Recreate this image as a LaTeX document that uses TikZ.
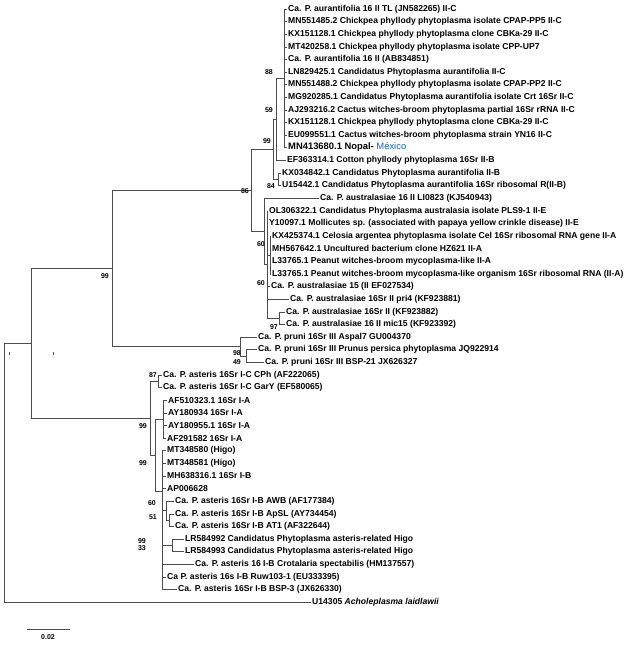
\documentclass[tikz,border=0pt]{standalone}
\usepackage{fontspec}
\setmainfont{Liberation Sans}
\definecolor{mexblue}{RGB}{20,100,200}
\begin{document}
\begin{tikzpicture}[x=1pt,y=-1pt,
  br/.style={draw=black!70, line width=0.6pt},
  leaf/.style={anchor=west, inner sep=0pt, font=\fontsize{8.6}{9}\selectfont\bfseries},
  bs/.style={anchor=east, inner sep=0pt, font=\fontsize{7}{7.5}\selectfont\bfseries}]
\useasboundingbox (0,0) rectangle (637,646);
% ---------- leaves ----------
\node[leaf] (l1) at (288,9.0) {Ca. P. aurantifolia 16 II TL (JN582265) II-C};
\node[leaf] (l2) at (288,21.6) {MN551485.2 Chickpea phyllody phytoplasma isolate CPAP-PP5 II-C};
\node[leaf] (l3) at (288,34.2) {KX151128.1 Chickpea phyllody phytoplasma clone CBKa-29 II-C};
\node[leaf] (l4) at (288,46.9) {MT420258.1 Chickpea phyllody phytoplasma isolate CPP-UP7};
\node[leaf] (l5) at (288,59.5) {Ca. P. aurantifolia 16 II (AB834851)};
\node[leaf] (l6) at (288,72.1) {LN829425.1 Candidatus Phytoplasma aurantifolia II-C};
\node[leaf] (l7) at (288,84.7) {MN551488.2 Chickpea phyllody phytoplasma isolate CPAP-PP2 II-C};
\node[leaf] (l8) at (288,97.3) {MG920285.1 Candidatus Phytoplasma aurantifolia isolate Crt 16Sr II-C};
\node[leaf] (l9) at (288,110.0) {AJ293216.2 Cactus witches-broom phytoplasma partial 16Sr rRNA II-C};
\node[leaf] (l10) at (288,122.6) {KX151128.1 Chickpea phyllody phytoplasma clone CBKa-29 II-C};
\node[leaf] (l11) at (288,135.2) {EU099551.1 Cactus witches-broom phytoplasma strain YN16 II-C};
\node[leaf] (l12) at (288,146.8) {\fontsize{9.4}{10}\selectfont MN413680.1 Nopal- \mdseries\color{mexblue}México};
\node[leaf] (l13) at (287,160.4) {EF363314.1 Cotton phyllody phytoplasma 16Sr II-B};
\node[leaf] (l14) at (282,173.1) {KX034842.1 Candidatus Phytoplasma aurantifolia II-B};
\node[leaf] (l15) at (282,185.7) {U15442.1 Candidatus Phytoplasma aurantifolia 16Sr ribosomal R(II-B)};
\node[leaf] (l16) at (320,198.3) {Ca. P. australasiae 16 II LI0823 (KJ540943)};
\node[leaf] (l17) at (269,210.9) {OL306322.1 Candidatus Phytoplasma australasia isolate PLS9-1 II-E};
\node[leaf] (l18) at (269,223.5) {Y10097.1 Mollicutes sp. (associated with papaya yellow crinkle disease) II-E};
\node[leaf] (l19) at (272,236.2) {KX425374.1 Celosia argentea phytoplasma isolate Cel 16Sr ribosomal RNA gene II-A};
\node[leaf] (l20) at (272,248.8) {MH567642.1 Uncultured bacterium clone HZ621 II-A};
\node[leaf] (l21) at (272,261.4) {L33765.1 Peanut witches-broom mycoplasma-like II-A};
\node[leaf] (l22) at (272,274.0) {L33765.1 Peanut witches-broom mycoplasma-like organism 16Sr ribosomal RNA (II-A)};
\node[leaf] (l23) at (271,286.6) {Ca. P. australasiae 15 (II EF027534)};
\node[leaf] (l24) at (290,299.3) {Ca. P. australasiae 16Sr II pri4 (KF923881)};
\node[leaf] (l25) at (286,311.9) {Ca. P. australasiae 16Sr II (KF923882)};
\node[leaf] (l26) at (286,324.5) {Ca. P. australasiae 16 II mic15 (KF923392)};
\node[leaf] (l27) at (258,337.1) {Ca. P. pruni 16Sr III Aspal7 GU004370};
\node[leaf] (l28) at (258,349.7) {Ca. P. pruni 16Sr III Prunus persica phytoplasma JQ922914};
\node[leaf] (l29) at (265,362.4) {Ca. P. pruni 16Sr III BSP-21 JX626327};
\node[leaf] (l30) at (163,375.0) {Ca. P. asteris 16Sr I-C CPh (AF222065)};
\node[leaf] (l31) at (163,387.6) {Ca. P. asteris 16Sr I-C GarY (EF580065)};
\node[leaf] (l32) at (168,400.2) {AF510323.1 16Sr I-A};
\node[leaf] (l33) at (168,412.8) {AY180934 16Sr I-A};
\node[leaf] (l34) at (168,425.5) {AY180955.1 16Sr I-A};
\node[leaf] (l35) at (167,438.1) {AF291582 16Sr I-A};
\node[leaf] (l36) at (167,450.7) {MT348580 (Higo)};
\node[leaf] (l37) at (167,463.3) {MT348581 (Higo)};
\node[leaf] (l38) at (167,475.9) {MH638316.1 16Sr I-B};
\node[leaf] (l39) at (167,488.6) {AP006628};
\node[leaf] (l40) at (175,501.2) {Ca. P. asteris 16Sr I-B AWB (AF177384)};
\node[leaf] (l41) at (175,513.8) {Ca. P. asteris 16Sr I-B ApSL (AY734454)};
\node[leaf] (l42) at (175,526.4) {Ca. P. asteris 16Sr I-B AT1 (AF322644)};
\node[leaf] (l43) at (185,539.0) {LR584992 Candidatus Phytoplasma asteris-related Higo};
\node[leaf] (l44) at (185,551.7) {LR584993 Candidatus Phytoplasma asteris-related Higo};
\node[leaf] (l45) at (195,564.3) {Ca. P. asteris 16 I-B Crotalaria spectabilis (HM137557)};
\node[leaf] (l46) at (167,576.9) {Ca P. asteris 16s I-B Ruw103-1 (EU333395)};
\node[leaf] (l47) at (178,589.5) {Ca. P. asteris 16Sr I-B BSP-3 (JX626330)};
\node[leaf] (l48) at (312,602.1) {U14305 \itshape Acholeplasma laidlawii};
% ---------- internal nodes ----------
\coordinate (n88) at (284,78.4);
\coordinate (n59) at (276,119.4);
\coordinate (n84) at (278,179.4);
\coordinate (n99a) at (273,149.4);
\coordinate (nIIA) at (270,255.1);
\coordinate (n97) at (279,318.2);
\coordinate (nX) at (267,264.5);
\coordinate (naus) at (264,231.4);
\coordinate (n86) at (251,190.4);
\coordinate (n49) at (246,356.0);
\coordinate (n98) at (240,346.6);
\coordinate (n99b) at (112,268.5);
\coordinate (nA) at (31,343.0);
\coordinate (root) at (4,343.0);
\coordinate (n87) at (158,381.3);
\coordinate (nIA) at (163,419.2);
\coordinate (nF1) at (169,520.1);
\coordinate (nF) at (166,510.6);
\coordinate (nLR) at (172,545.4);
\coordinate (nC) at (162,491.0);
\coordinate (nB) at (155,455.0);
\coordinate (nI) at (150,418.0);
% ---------- brackets ----------
\draw[br] (n88 |- l1) -- (n88 |- l12);
\draw[br] (n59 |- n88) -- (n59 |- l13);
\draw[br] (n84 |- l14) -- (n84 |- l15);
\draw[br] (n99a |- n59) -- (n99a |- n84);
\draw[br] (nIIA |- l19) -- (nIIA |- l22);
\draw[br] (n97 |- l25) -- (n97 |- l26);
\draw[br] (nX |- l17) -- (nX |- n97);
\draw[br] (naus |- l16) -- (naus |- nX);
\draw[br] (n86 |- n99a) -- (n86 |- naus);
\draw[br] (n49 |- l28) -- (n49 |- l29);
\draw[br] (n98 |- l27) -- (n98 |- n49);
\draw[br] (n99b |- n86) -- (n99b |- n98);
\draw[br] (nA |- n99b) -- (nA |- nI);
\draw[br] (root) -- (root |- l48);
\draw[br] (n87 |- l30) -- (n87 |- l31);
\draw[br] (nIA |- l32) -- (nIA |- l35);
\draw[br] (nF1 |- l41) -- (nF1 |- l42);
\draw[br] (nF |- l40) -- (nF |- nF1);
\draw[br] (nLR |- l43) -- (nLR |- l44);
\draw[br] (nC |- l36) -- (nC |- l47);
\draw[br] (nB |- nIA) -- (nB |- nC);
\draw[br] (nI |- n87) -- (nI |- nB);
% ---------- internal connectors ----------
\draw[br] (n59 |- n88) -- (n88);
\draw[br] (n99a |- n59) -- (n59);
\draw[br] (n99a |- n84) -- (n84);
\draw[br] (n86 |- n99a) -- (n99a);
\draw[br] (naus |- nX) -- (nX);
\draw[br] (nX |- nIIA) -- (nIIA);
\draw[br] (nX |- n97) -- (n97);
\draw[br] (n86 |- naus) -- (naus);
\draw[br] (n99b |- n86) -- (n86);
\draw[br] (n98 |- n49) -- (n49);
\draw[br] (n99b |- n98) -- (n98);
\draw[br] (nA |- n99b) -- (n99b);
\draw[br] (root) -- (nA);
\draw[br] (nA |- nI) -- (nI);
\draw[br] (nI |- n87) -- (n87);
\draw[br] (nI |- nB) -- (nB);
\draw[br] (nB |- nIA) -- (nIA);
\draw[br] (nB |- nC) -- (nC);
\draw[br] (nC |- nF) -- (nF);
\draw[br] (nF |- nF1) -- (nF1);
\draw[br] (nC |- nLR) -- (nLR);
% ---------- tips ----------
\foreach \l in {l1,l2,l3,l4,l5,l6,l7,l8,l9,l10,l11,l12} \draw[br] (n88 |- \l) -- ([xshift=-1.5pt]\l.west);
\draw[br] (n59 |- l13) -- ([xshift=-1.5pt]l13.west);
\foreach \l in {l14,l15} \draw[br] (n84 |- \l) -- ([xshift=-1.5pt]\l.west);
\draw[br] (naus |- l16) -- ([xshift=-1.5pt]l16.west);
\foreach \l in {l17,l18,l23,l24} \draw[br] (nX |- \l) -- ([xshift=-1.5pt]\l.west);
\foreach \l in {l19,l20,l21,l22} \draw[br] (nIIA |- \l) -- ([xshift=-1.5pt]\l.west);
\foreach \l in {l25,l26} \draw[br] (n97 |- \l) -- ([xshift=-1.5pt]\l.west);
\draw[br] (n98 |- l27) -- ([xshift=-1.5pt]l27.west);
\foreach \l in {l28,l29} \draw[br] (n49 |- \l) -- ([xshift=-1.5pt]\l.west);
\foreach \l in {l30,l31} \draw[br] (n87 |- \l) -- ([xshift=-1.5pt]\l.west);
\foreach \l in {l32,l33,l34,l35} \draw[br] (nIA |- \l) -- ([xshift=-1.5pt]\l.west);
\foreach \l in {l36,l37,l38,l39,l45,l46,l47} \draw[br] (nC |- \l) -- ([xshift=-1.5pt]\l.west);
\draw[br] (nF |- l40) -- ([xshift=-1.5pt]l40.west);
\foreach \l in {l41,l42} \draw[br] (nF1 |- \l) -- ([xshift=-1.5pt]\l.west);
\foreach \l in {l43,l44} \draw[br] (nLR |- \l) -- ([xshift=-1.5pt]\l.west);
\draw[br] (root |- l48) -- ([xshift=-1.5pt]l48.west);
% ---------- bootstrap values ----------
\node[bs] (b88) at (273,72) {88};
\node[bs] (b59) at (273,110) {59};
\node[bs] (b99a) at (271,141) {99};
\node[bs] (b84) at (275,186) {84};
\node[bs] (b86) at (249,191) {86};
\node[bs] (b99b) at (109,276) {99};
\node[bs] (b60a) at (265,244) {60};
\node[bs] (b60b) at (265,283) {60};
\node[bs] (b97) at (278,327) {97};
\node[bs] (b98) at (241,353) {98};
\node[bs] (b49) at (241,362) {49};
\node[bs] (b87) at (157,375) {87};
\node[bs] (b99c) at (147,426) {99};
\node[bs] (b99d) at (147,463) {99};
\node[bs] (b60c) at (156,503) {60};
\node[bs] (b51) at (157,517) {51};
\node[bs] (b99e) at (146,541) {99};
\node[bs] (b33) at (146,548) {33};
% ---------- small marks ----------
\draw[black!70, line width=0.6pt] (9,352) -- (9,355);
\draw[black!70, line width=0.6pt] (53,352) -- (53,355);
% ---------- scale bar ----------
\coordinate (sb1) at (27,629);
\coordinate (sb2) at (70,629);
\draw[br] (sb1) -- (sb2);
\node[bs, anchor=center] (sbl) at (48,637) {0.02};
\end{tikzpicture}
\end{document}
